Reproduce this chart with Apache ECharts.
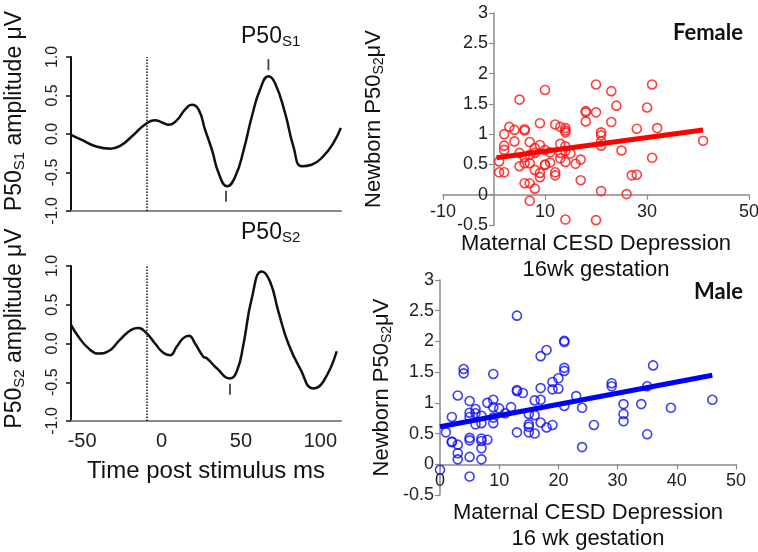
<!DOCTYPE html>
<html><head><meta charset="utf-8">
<script src="https://cdn.jsdelivr.net/npm/echarts@6/dist/echarts.min.js"></script>
<style>html,body{margin:0;padding:0;background:#fff}#c{width:758px;height:552px}</style>
</head><body><div id="c"></div>
<script>
// ---- Left panels: averaged waveforms (time in ms, amplitude in µV)
const s1Time = [-57,-49.9,-41.5,-32.1,-25.8,-18.6,-11.2,-4.3,0.3,4.5,9.7,14.9,19.1,23.3,27.5,31.8,36.0,41.3,46.5,51.7,56.9,62.1,67.3,71.5,77.8,83.0,88.3,94.5,101.8,108.1,112.9];
const s1Amp  = [-0.01,-0.08,-0.16,-0.19,-0.15,-0.03,0.11,0.18,0.15,0.12,0.18,0.32,0.38,0.32,0.05,-0.21,-0.51,-0.68,-0.55,-0.21,0.23,0.58,0.75,0.66,0.27,-0.16,-0.42,-0.40,-0.29,-0.12,0.08];
const s2Time = [-57,-52.4,-46.1,-39.8,-33.5,-26.1,-18.8,-14.6,-9.3,-4.1,1.1,5.4,9.6,13.7,17.3,21.1,26.3,28.5,34.8,43.1,47.4,51.5,56.8,63.1,68.3,73.6,79.8,87.2,95.6,101.9,110.3];
const s2Amp  = [0.24,0.09,-0.06,-0.13,-0.10,0.05,0.18,0.20,0.13,0.00,-0.12,-0.15,-0.04,0.07,0.10,0.00,-0.17,-0.19,-0.32,-0.45,-0.36,-0.02,0.58,0.93,0.80,0.41,0.00,-0.32,-0.58,-0.49,-0.10];
const s1MarkTime = [67.3, 40.6];
const s1MarkAmp  = [0.90, -0.81];
const s2MarkTime = [63.7, 43.1];
const s2MarkAmp  = [1.07, -0.59];
const stimulusTime = -9;
const timeTicks = [-50, 0, 50, 100];

// ---- Right panels: scatter (CESD score, newborn P50 S2 µV)
const femaleCesd = [1,1,2,2,2,2,3,4,4,5,5,5,6,6,6,6,6,7,7,7,7,7,8,8,8,8,9,9,9,9,10,10,10,10,11,11,12,12,12,13,13,13,13,14,14,14,14,14,14,14,15,16,17,17,18,18,18,20,20,20,21,21,21,21,21,23,23,24,25,26,27,28,28,30,31,31,32,41];
const femaleP50  = [0.55,0.37,0.37,0.74,0.81,1.0,1.12,1.07,0.88,1.57,0.69,0.47,1.08,1.06,0.62,0.52,0.19,0.19,-0.1,0.87,0.66,0.52,0.1,0.41,0.69,0.77,1.18,0.82,0.36,0.29,1.73,0.74,0.5,0.49,0.7,0.53,1.16,0.37,0.32,1.12,0.84,0.69,0.6,-0.41,1.1,1.06,1.03,0.8,0.72,0.54,0.68,0.51,0.58,0.24,1.38,1.36,1.21,1.82,1.36,-0.42,1.03,0.98,0.88,0.81,0.06,1.71,1.2,1.47,0.73,0.01,0.32,0.33,1.09,1.44,1.82,0.61,1.1,0.89];
const femaleFitX = [0.5, 41];
const femaleFitY = [0.61, 1.07];

const maleCesd = [0,1,2,2,2,3,3,3,3,4,4,5,5,5,5,5,5,5,6,6,6,7,7,7,7,7,7,8,8,9,9,9,9,9,10,11,12,13,13,13,13,14,15,15,15,15,16,16,16,17,17,17,17,18,18,19,19,19,20,20,21,21,21,21,21,23,24,24,26,29,29,31,31,31,34,35,35,36,39,46];
const maleP50  = [-0.09,0.52,0.77,0.37,0.36,1.12,0.32,0.18,0.08,1.55,1.48,1.03,0.84,0.77,0.43,0.39,0.12,-0.2,0.9,0.83,0.65,0.79,0.67,0.42,0.38,0.26,0.08,1.0,0.4,1.47,1.05,0.93,0.76,0.67,0.91,0.83,0.93,2.42,1.21,1.19,0.52,1.16,0.82,0.65,0.61,0.52,1.04,0.8,0.5,1.76,1.24,1.05,0.68,1.86,0.6,1.34,1.22,0.64,1.4,1.23,2.01,1.99,1.57,1.52,0.95,1.11,0.92,0.28,0.64,1.32,1.27,0.98,0.82,0.7,0.98,1.27,0.49,1.61,0.92,1.05];
const maleFitX = [0, 46];
const maleFitY = [0.61, 1.45];

const zip = (a, b) => a.map((v, i) => [v, b[i]]);
const FONT = '"Liberation Sans", Arial, sans-serif';
const BOLD = 'Lato, "Open Sans", sans-serif';
const GRAY = '#8a8a8a';

// layout
const G = {
  s1: {left: 71, top: 57, width: 270, height: 154},
  s2: {left: 71, top: 266, width: 270, height: 155},
  fem: {left: 443, top: 13, width: 306, height: 212},
  male: {left: 440, top: 280, width: 296, height: 215}
};
const SX = {min: -10, max: 50}, SY = {min: -0.5, max: 3};

const subRich = (big, small) => ({
  a: {fontSize: big, fontFamily: FONT, color: '#111', fontWeight: 'normal'},
  b: {fontSize: small, fontFamily: FONT, color: '#111', fontWeight: 'normal', padding: [Math.round(big*0.45), 0, 0, 0]}
});

function leftY(grid, name, shift) {
  return {
    gridIndex: grid, type: 'value', min: -1, max: 1, interval: 0.5,
    axisLine: {show: true, onZero: false, lineStyle: {color: '#111', width: 2}},
    axisTick: {show: true, length: 5, lineStyle: {color: '#111', width: 1.5}},
    axisLabel: {rotate: 90, fontSize: 16, fontFamily: FONT, color: '#222', margin: 10,
      formatter: v => v.toFixed(1)},
    splitLine: {show: false},
    name: name, nameLocation: 'middle', nameGap: 44, nameRotate: 90, nameMoveOverlap: false,
    nameTextStyle: {rich: subRich(23, 15), padding: [0, 0, 0, shift]}
  };
}
function leftX(grid, withLabels) {
  const ax = {
    gridIndex: grid, type: 'value', min: -57, max: 113,
    axisLine: {show: true, onZero: false, lineStyle: {color: GRAY, width: 2}},
    axisTick: {show: false},
    axisLabel: {show: false},
    splitLine: {show: false}
  };
  if (withLabels) {
    ax.axisLabel = {show: true, customValues: timeTicks, fontSize: 20, fontFamily: FONT, color: '#222', margin: 10};
    ax.name = 'Time post stimulus ms';
    ax.nameLocation = 'middle';
    ax.nameGap = 38;
    ax.nameTextStyle = {fontSize: 24, fontFamily: FONT, color: '#111'};
  }
  return ax;
}
function rightY(grid, gap, offset) {
  return {
    gridIndex: grid, type: 'value', min: SY.min, max: SY.max, interval: 0.5, offset: offset,
    axisLine: {show: true, onZero: false, lineStyle: {color: GRAY, width: 1.5}},
    axisTick: {show: true, length: 5, lineStyle: {color: GRAY, width: 1.2}},
    axisLabel: {fontSize: 18, fontFamily: FONT, color: '#222', margin: 6},
    splitLine: {show: false},
    name: '{a|Newborn P50}{b|S2}{a|μV}', nameLocation: 'middle', nameGap: gap, nameRotate: 90,
    nameMoveOverlap: false,
    nameTextStyle: {rich: subRich(22, 14)}
  };
}
function rightX(grid, min, interval, name, offset) {
  return {
    gridIndex: grid, type: 'value', min: min, max: SX.max, interval: interval, offset: offset,
    axisLine: {show: true, onZero: false, lineStyle: {color: GRAY, width: 1.5}},
    axisTick: {show: true, length: 5, lineStyle: {color: GRAY, width: 1.2}},
    axisLabel: {fontSize: 18, fontFamily: FONT, color: '#222', margin: 8},
    splitLine: {show: false},
    name: name, nameLocation: 'middle', nameGap: 36, nameMoveOverlap: false,
    nameTextStyle: {fontSize: 22, lineHeight: 26, fontFamily: FONT, color: '#111'}
  };
}
// pixel offset that brings an axis line onto the other axis' zero
const zeroOffX = (g, min, max) => -g.width * (0 - min) / (max - min);
const zeroOffY = (g, min, max) => -g.height * (0 - min) / (max - min);

const dotted = {
  symbol: ['none', 'none'], silent: true, label: {show: false},
  lineStyle: {type: 'dotted', color: '#111', width: 1.5},
  data: [{xAxis: stimulusTime}]
};
const titleRich = subRich(23, 15);

const chart = echarts.init(document.getElementById('c'));
chart.setOption({
  animation: false,
  backgroundColor: '#fff',
  title: [
    {text: '{a|P50}{b|S1}', left: 236, top: 19, textStyle: {fontWeight: 'normal', rich: titleRich}},
    {text: '{a|P50}{b|S2}', left: 236, top: 215, textStyle: {fontWeight: 'normal', rich: titleRich}},
    {text: 'Female', right: 10, top: 17, textStyle: {fontFamily: BOLD, fontWeight: 'bold', fontSize: 22, color: '#111'}},
    {text: 'Male', right: 10, top: 276, textStyle: {fontFamily: BOLD, fontWeight: 'bold', fontSize: 22, color: '#111'}}
  ],
  grid: [
    Object.assign({outerBoundsMode: 'none'}, G.s1),
    Object.assign({outerBoundsMode: 'none'}, G.s2),
    Object.assign({outerBoundsMode: 'none'}, G.fem),
    Object.assign({outerBoundsMode: 'none'}, G.male)
  ],
  xAxis: [
    leftX(0, false),
    leftX(1, true),
    rightX(2, SX.min, 20, 'Maternal CESD Depression\n16wk gestation', zeroOffY(G.fem, SY.min, SY.max)),
    rightX(3, 0, 10, 'Maternal CESD Depression\n16 wk gestation', zeroOffY(G.male, SY.min, SY.max))
  ],
  yAxis: [
    leftY(0, '{a|P50}{b|S1}{a| amplitude μV}', 46),
    leftY(1, '{a|P50}{b|S2}{a| amplitude μV}', 30),
    rightY(2, 108, zeroOffX(G.fem, SX.min, SX.max)),
    rightY(3, 46, 0)
  ],
  series: [
    {type: 'line', xAxisIndex: 0, yAxisIndex: 0, data: zip(s1Time, s1Amp), smooth: 0.5,
      showSymbol: false, lineStyle: {color: '#111', width: 2.5}, markLine: dotted},
    {type: 'scatter', xAxisIndex: 0, yAxisIndex: 0, data: zip(s1MarkTime, s1MarkAmp),
      symbol: 'rect', symbolSize: [1.8, 11], itemStyle: {color: '#111'}},
    {type: 'line', xAxisIndex: 1, yAxisIndex: 1, data: zip(s2Time, s2Amp), smooth: 0.5,
      showSymbol: false, lineStyle: {color: '#111', width: 2.5}, markLine: dotted},
    {type: 'scatter', xAxisIndex: 1, yAxisIndex: 1, data: zip(s2MarkTime, s2MarkAmp),
      symbol: 'rect', symbolSize: [1.8, 11], itemStyle: {color: '#111'}},
    {type: 'scatter', xAxisIndex: 2, yAxisIndex: 2, data: zip(femaleCesd, femaleP50),
      symbol: 'circle', symbolSize: 9,
      itemStyle: {color: 'rgba(0,0,0,0)', borderColor: '#ff1010', borderWidth: 1.6}},
    {type: 'line', xAxisIndex: 2, yAxisIndex: 2, data: zip(femaleFitX, femaleFitY),
      showSymbol: false, lineStyle: {color: '#ff0000', width: 5}},
    {type: 'scatter', xAxisIndex: 3, yAxisIndex: 3, data: zip(maleCesd, maleP50),
      symbol: 'circle', symbolSize: 9,
      itemStyle: {color: 'rgba(0,0,0,0)', borderColor: '#1010f0', borderWidth: 1.6}},
    {type: 'line', xAxisIndex: 3, yAxisIndex: 3, data: zip(maleFitX, maleFitY),
      showSymbol: false, lineStyle: {color: '#0000ff', width: 5}}
  ]
});
</script>
</body></html>
